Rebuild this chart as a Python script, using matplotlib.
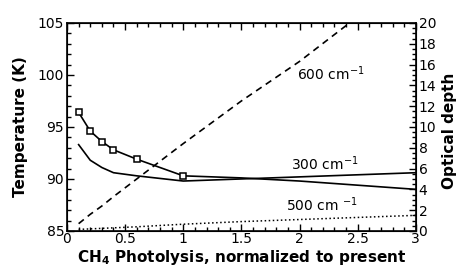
import numpy as np
import matplotlib
matplotlib.use("Agg")
import matplotlib.pyplot as plt
from matplotlib.ticker import MultipleLocator

plt.rcParams['font.family'] = ['DejaVu Sans']

# temperature (left axis)
temp_x = [0.1, 0.2, 0.3, 0.4, 0.6, 1.0, 1.5, 2.0, 3.0]
temp_y = [96.4, 94.6, 93.6, 92.8, 91.9, 90.3, 90.1, 89.8, 89.0]
temp_marked = [0.1, 0.2, 0.3, 0.4, 0.6, 1.0]

# optical depths (right axis)
od_x = [0.1, 0.2, 0.3, 0.4, 0.6, 1.0, 1.5, 2.0, 2.5, 3.0]
od_300 = [8.3, 6.8, 6.1, 5.6, 5.3, 4.8, 5.0, 5.2, 5.4, 5.6]
od_600 = [0.7, 1.6, 2.4, 3.3, 5.0, 8.4, 12.5, 16.3, 20.6, 24.5]
od_500 = [0.15, 0.2, 0.25, 0.3, 0.4, 0.65, 0.9, 1.1, 1.3, 1.5]

fig = plt.figure(figsize=(4.62, 2.73), dpi=100)
ax = fig.add_axes([0.145, 0.154, 0.755, 0.762])
ax2 = ax.twinx()

# temperature curve, squares at the computed points
ax.plot(temp_x, temp_y, "-k", lw=1.2)
mk = [temp_y[temp_x.index(v)] for v in temp_marked]
ax.plot(temp_marked, mk, "s", mfc="white", mec="k", ms=4.5, mew=1.1)

ax2.plot(od_x, od_300, "-k", lw=1.2)
ax2.plot(od_x, od_600, "--k", lw=1.2, dashes=(4, 3))
ax2.plot(od_x, od_500, ":k", lw=1.1)

ax.set_xlim(0, 3)
ax.set_ylim(85, 105)
ax2.set_ylim(0, 20)

ax.xaxis.set_major_locator(MultipleLocator(0.5))
ax.xaxis.set_minor_locator(MultipleLocator(0.1))
ax.yaxis.set_major_locator(MultipleLocator(5))
ax.yaxis.set_minor_locator(MultipleLocator(1))
ax2.yaxis.set_major_locator(MultipleLocator(2))
ax2.yaxis.set_minor_locator(MultipleLocator(0.5))

ax.set_xticks([0, 0.5, 1, 1.5, 2, 2.5, 3])
ax.set_xticklabels(["0", "0.5", "1", "1.5", "2", "2.5", "3"])

ax.tick_params(which="both", direction="in", top=True, labelsize=10, width=1)
ax.tick_params(axis="y", pad=2)
ax.tick_params(axis="x", pad=1)
ax.tick_params(which="major", length=5)
ax.tick_params(which="minor", length=3)
ax2.tick_params(which="both", direction="in", labelsize=10, pad=2, width=1)
ax2.tick_params(which="major", length=5)
ax2.tick_params(which="minor", length=3)

for sp in ax.spines.values():
    sp.set_linewidth(1.2)

ax.set_xlabel("CH$_\\mathbf{4}$ Photolysis, normalized to present", fontsize=11, fontweight="bold", labelpad=1)
ax.set_ylabel("Temperature (K)", fontsize=11, fontweight="bold")
ax2.set_ylabel("Optical depth", fontsize=11, fontweight="bold")
ax.yaxis.set_label_coords(-0.112, 0.5)
ax2.yaxis.set_label_coords(1.074, 0.48)

ax2.text(1.98, 15.1, "600 cm$^{-1}$", fontsize=10, va="center")
ax2.text(1.93, 6.5, "300 cm$^{-1}$", fontsize=10, va="center")
ax2.text(1.88, 2.5, "500 cm $^{-1}$", fontsize=10, va="center")

fig.savefig("out.png", dpi=100)
